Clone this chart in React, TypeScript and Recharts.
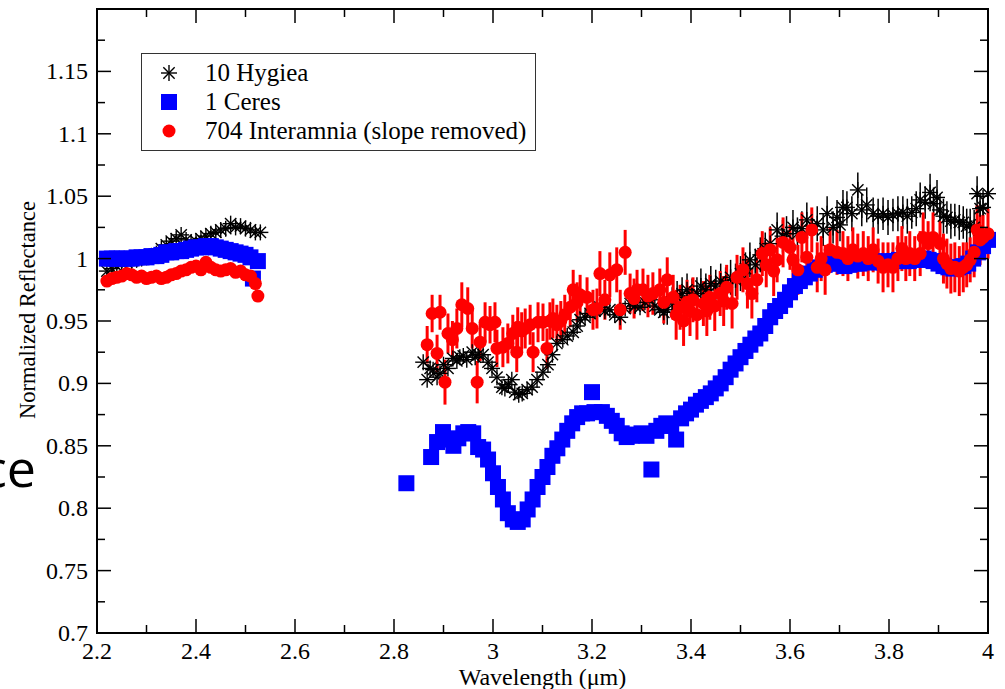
import React from 'react';
import { ScatterChart, Scatter, XAxis, YAxis, ErrorBar, ReferenceArea, Legend } from 'recharts';

// [wavelength, reflectance, error]
const hygieaShort = [
  [2.22, 0.99, 0], [2.23, 0.992, 0], [2.24, 0.994, 0], [2.25, 0.996, 0], [2.26, 0.997, 0],
  [2.27, 0.998, 0], [2.28, 0.999, 0], [2.29, 1.0, 0], [2.3, 1.001, 0], [2.31, 1.002, 0],
  [2.32, 1.004, 0], [2.33, 1.008, 0], [2.34, 1.011, 0], [2.35, 1.014, 0], [2.36, 1.016, 0],
  [2.37, 1.019, 0], [2.38, 1.015, 0], [2.39, 1.013, 0], [2.4, 1.014, 0], [2.41, 1.016, 0],
  [2.42, 1.018, 0], [2.43, 1.02, 0], [2.44, 1.021, 0], [2.45, 1.023, 0], [2.46, 1.024, 0],
  [2.47, 1.028, 0], [2.48, 1.025, 0], [2.49, 1.026, 0], [2.5, 1.024, 0], [2.51, 1.023, 0],
  [2.52, 1.021, 0], [2.53, 1.021, 0],
];

const hygieaLong = [
  [2.859, 0.917, 0], [2.867, 0.903, 0], [2.873, 0.912, 0], [2.879, 0.911, 0], [2.887, 0.905, 0],
  [2.893, 0.908, 0], [2.9, 0.915, 0], [2.909, 0.912, 0], [2.919, 0.92, 0], [2.927, 0.918, 0],
  [2.933, 0.921, 0], [2.94, 0.922, 0], [2.947, 0.919, 0], [2.958, 0.925, 0], [2.964, 0.921, 0],
  [2.97, 0.923, 0], [2.98, 0.923, 0], [2.99, 0.917, 0], [2.998, 0.912, 0], [3.008, 0.905, 0],
  [3.018, 0.897, 0], [3.024, 0.896, 0], [3.031, 0.899, 0], [3.038, 0.903, 0], [3.044, 0.893, 0],
  [3.052, 0.891, 0], [3.059, 0.892, 0], [3.069, 0.895, 0], [3.079, 0.897, 0], [3.089, 0.903, 0],
  [3.101, 0.909, 0], [3.111, 0.915, 0], [3.12, 0.923, 0], [3.129, 0.932, 0], [3.141, 0.935, 0],
  [3.15, 0.938, 0], [3.162, 0.941, 0], [3.17, 0.946, 0], [3.176, 0.951, 0], [3.186, 0.953, 0],
  [3.196, 0.956, 0], [3.206, 0.958, 0], [3.216, 0.961, 0], [3.226, 0.958, 0], [3.236, 0.959, 0],
  [3.246, 0.955, 0], [3.257, 0.953, 0], [3.267, 0.96, 0], [3.277, 0.964, 0], [3.287, 0.962, 0],
  [3.297, 0.961, 0], [3.307, 0.965, 0], [3.317, 0.967, 0], [3.327, 0.962, 0], [3.337, 0.959, 0],
  [3.345, 0.957, 0.01], [3.352, 0.959, 0.012], [3.362, 0.965, 0.012], [3.372, 0.969, 0.013],
  [3.382, 0.972, 0.013], [3.392, 0.975, 0.013], [3.402, 0.97, 0.014], [3.412, 0.972, 0.013],
  [3.42, 0.978, 0.014], [3.43, 0.975, 0.013], [3.44, 0.98, 0.014], [3.45, 0.978, 0.013],
  [3.46, 0.982, 0.014], [3.47, 0.98, 0.013], [3.48, 0.985, 0.014], [3.49, 0.983, 0.013],
  [3.5, 0.988, 0.014], [3.51, 0.992, 0.013], [3.519, 0.999, 0.014], [3.53, 0.995, 0.013],
  [3.54, 1.003, 0.014], [3.55, 1.008, 0.013], [3.56, 1.012, 0.014], [3.574, 1.023, 0.014],
  [3.585, 1.018, 0.013], [3.593, 1.02, 0.014], [3.606, 1.025, 0.014], [3.615, 1.02, 0.013],
  [3.624, 1.024, 0.014], [3.634, 1.031, 0.014], [3.645, 1.026, 0.013], [3.655, 1.028, 0.014],
  [3.667, 1.023, 0.013], [3.675, 1.036, 0.014], [3.687, 1.025, 0.013], [3.695, 1.033, 0.014],
  [3.701, 1.027, 0.013], [3.707, 1.041, 0.014], [3.715, 1.041, 0.013], [3.725, 1.036, 0.014],
  [3.737, 1.055, 0.014], [3.745, 1.039, 0.013], [3.755, 1.043, 0.014], [3.768, 1.036, 0.013],
  [3.778, 1.034, 0.014], [3.788, 1.036, 0.013], [3.798, 1.033, 0.014], [3.808, 1.035, 0.013],
  [3.818, 1.036, 0.014], [3.828, 1.037, 0.013], [3.837, 1.034, 0.014], [3.846, 1.037, 0.013],
  [3.855, 1.04, 0.014], [3.863, 1.047, 0.014], [3.873, 1.045, 0.013], [3.883, 1.053, 0.015],
  [3.89, 1.044, 0.013], [3.897, 1.049, 0.014], [3.903, 1.039, 0.013], [3.91, 1.034, 0.014],
  [3.917, 1.033, 0.013], [3.925, 1.03, 0.014], [3.933, 1.031, 0.013], [3.942, 1.029, 0.014],
  [3.95, 1.029, 0.013], [3.957, 1.026, 0.014], [3.964, 1.027, 0.013], [3.972, 1.025, 0.014],
  [3.978, 1.052, 0.014], [3.984, 1.04, 0.013], [3.99, 1.041, 0.014], [4.0, 1.052, 0.014],
];

const ceresShort = [
  [2.22, 1.0, 0], [2.23, 1.0, 0], [2.24, 1.0, 0], [2.25, 1.0, 0], [2.26, 1.0, 0],
  [2.27, 1.0, 0], [2.28, 1.001, 0], [2.29, 1.001, 0], [2.3, 1.001, 0], [2.31, 1.002, 0],
  [2.32, 1.002, 0], [2.33, 1.003, 0], [2.34, 1.005, 0], [2.35, 1.005, 0], [2.36, 1.006, 0],
  [2.37, 1.006, 0], [2.38, 1.007, 0], [2.39, 1.008, 0], [2.4, 1.009, 0], [2.41, 1.009, 0],
  [2.42, 1.01, 0], [2.43, 1.01, 0], [2.44, 1.009, 0], [2.45, 1.008, 0], [2.46, 1.007, 0],
  [2.47, 1.006, 0], [2.48, 1.005, 0], [2.49, 1.004, 0], [2.5, 1.003, 0], [2.51, 1.001, 0],
  [2.515, 0.984, 0], [2.525, 0.998, 0],
];

const ceresLong = [
  [2.825, 0.82, 0], [2.875, 0.841, 0], [2.887, 0.853, 0], [2.899, 0.861, 0], [2.91, 0.855, 0],
  [2.92, 0.85, 0], [2.93, 0.856, 0], [2.94, 0.86, 0], [2.95, 0.861, 0], [2.96, 0.86, 0],
  [2.97, 0.849, 0], [2.98, 0.847, 0], [2.99, 0.839, 0], [3.0, 0.828, 0], [3.01, 0.817, 0],
  [3.02, 0.807, 0], [3.03, 0.796, 0], [3.04, 0.791, 0], [3.05, 0.789, 0], [3.06, 0.791, 0],
  [3.07, 0.799, 0], [3.08, 0.807, 0], [3.09, 0.817, 0], [3.1, 0.825, 0], [3.11, 0.833, 0],
  [3.12, 0.842, 0], [3.13, 0.848, 0], [3.14, 0.855, 0], [3.15, 0.862, 0], [3.16, 0.868, 0],
  [3.17, 0.873, 0], [3.18, 0.876, 0], [3.19, 0.876, 0], [3.2, 0.893, 0], [3.205, 0.877, 0],
  [3.22, 0.877, 0], [3.23, 0.874, 0], [3.24, 0.87, 0], [3.25, 0.866, 0], [3.26, 0.86, 0],
  [3.27, 0.857, 0], [3.28, 0.858, 0], [3.29, 0.859, 0], [3.3, 0.86, 0], [3.31, 0.858, 0],
  [3.32, 0.831, 0], [3.33, 0.862, 0], [3.34, 0.866, 0], [3.35, 0.868, 0], [3.36, 0.866, 0],
  [3.37, 0.855, 0], [3.38, 0.872, 0], [3.39, 0.876, 0], [3.4, 0.879, 0], [3.41, 0.883, 0],
  [3.42, 0.886, 0], [3.43, 0.889, 0], [3.44, 0.892, 0], [3.45, 0.896, 0], [3.46, 0.9, 0],
  [3.47, 0.905, 0], [3.48, 0.911, 0], [3.49, 0.916, 0], [3.5, 0.921, 0], [3.51, 0.926, 0],
  [3.52, 0.931, 0], [3.53, 0.936, 0], [3.54, 0.94, 0], [3.55, 0.946, 0], [3.56, 0.953, 0],
  [3.57, 0.958, 0], [3.58, 0.962, 0], [3.59, 0.967, 0], [3.6, 0.973, 0], [3.61, 0.978, 0],
  [3.62, 0.982, 0], [3.63, 0.985, 0], [3.64, 0.988, 0], [3.65, 0.991, 0], [3.66, 0.993, 0],
  [3.67, 0.995, 0], [3.68, 0.996, 0], [3.69, 0.997, 0], [3.7, 0.996, 0], [3.71, 0.994, 0],
  [3.72, 0.995, 0], [3.73, 0.996, 0], [3.74, 0.996, 0], [3.75, 0.997, 0], [3.76, 0.997, 0],
  [3.77, 0.998, 0], [3.78, 0.997, 0], [3.79, 0.997, 0], [3.8, 0.998, 0], [3.81, 0.998, 0],
  [3.82, 0.999, 0], [3.83, 0.998, 0], [3.84, 0.998, 0], [3.85, 0.999, 0], [3.86, 0.999, 0],
  [3.87, 1.0, 0], [3.88, 0.999, 0], [3.89, 0.998, 0], [3.9, 0.996, 0], [3.91, 0.994, 0],
  [3.92, 0.993, 0], [3.93, 0.992, 0], [3.94, 0.993, 0], [3.95, 0.994, 0], [3.96, 0.996, 0],
  [3.97, 1.0, 0], [3.98, 1.005, 0], [3.99, 1.01, 0], [4.0, 1.015, 0],
];

const interamniaShort = [
  [2.22, 0.982, 0], [2.23, 0.984, 0], [2.24, 0.985, 0], [2.25, 0.986, 0], [2.26, 0.988, 0],
  [2.27, 0.987, 0], [2.28, 0.985, 0], [2.29, 0.986, 0], [2.3, 0.984, 0], [2.31, 0.985, 0],
  [2.32, 0.986, 0], [2.33, 0.984, 0], [2.34, 0.985, 0], [2.35, 0.987, 0], [2.36, 0.988, 0],
  [2.37, 0.99, 0], [2.38, 0.991, 0], [2.39, 0.993, 0], [2.4, 0.994, 0], [2.41, 0.991, 0],
  [2.42, 0.997, 0], [2.43, 0.993, 0], [2.44, 0.991, 0], [2.45, 0.99, 0], [2.46, 0.991, 0],
  [2.47, 0.992, 0], [2.48, 0.989, 0], [2.49, 0.99, 0], [2.5, 0.987, 0], [2.51, 0.986, 0],
  [2.52, 0.98, 0], [2.525, 0.97, 0],
];

const interamniaLong = [
  [2.867, 0.931, 0.015], [2.877, 0.956, 0.015], [2.887, 0.924, 0.015], [2.893, 0.957, 0.014],
  [2.903, 0.901, 0.018], [2.909, 0.94, 0.016], [2.918, 0.935, 0.015], [2.927, 0.944, 0.016],
  [2.937, 0.963, 0.018], [2.949, 0.96, 0.017], [2.958, 0.944, 0.016], [2.968, 0.901, 0.017],
  [2.974, 0.933, 0.015], [2.984, 0.949, 0.016], [2.994, 0.947, 0.015], [3.004, 0.949, 0.016],
  [3.008, 0.928, 0.015], [3.02, 0.929, 0.016], [3.03, 0.932, 0.016], [3.04, 0.94, 0.015],
  [3.048, 0.925, 0.016], [3.05, 0.945, 0.016], [3.058, 0.942, 0.015], [3.065, 0.944, 0.016],
  [3.075, 0.947, 0.016], [3.081, 0.925, 0.016], [3.091, 0.949, 0.016], [3.101, 0.949, 0.015],
  [3.109, 0.928, 0.016], [3.115, 0.95, 0.015], [3.121, 0.952, 0.016], [3.129, 0.947, 0.016],
  [3.137, 0.95, 0.016], [3.145, 0.955, 0.016], [3.156, 0.961, 0.016], [3.162, 0.975, 0.016],
  [3.17, 0.965, 0.016], [3.176, 0.971, 0.016], [3.19, 0.969, 0.016], [3.202, 0.959, 0.016],
  [3.21, 0.96, 0.016], [3.216, 0.988, 0.018], [3.226, 0.967, 0.016], [3.236, 0.987, 0.018],
  [3.25, 0.991, 0.018], [3.257, 0.959, 0.016], [3.267, 1.005, 0.018], [3.277, 0.972, 0.016],
  [3.285, 0.968, 0.016], [3.291, 0.975, 0.016], [3.303, 0.975, 0.017], [3.313, 0.97, 0.017],
  [3.323, 0.972, 0.017], [3.337, 0.975, 0.017], [3.345, 0.965, 0.017], [3.352, 0.983, 0.018],
  [3.364, 0.969, 0.018], [3.37, 0.955, 0.02], [3.378, 0.961, 0.018], [3.385, 0.95, 0.02],
  [3.392, 0.965, 0.018], [3.398, 0.958, 0.02], [3.404, 0.967, 0.018], [3.412, 0.955, 0.02],
  [3.425, 0.964, 0.018], [3.432, 0.958, 0.02], [3.438, 0.969, 0.018], [3.448, 0.962, 0.02],
  [3.459, 0.972, 0.018], [3.466, 0.966, 0.02], [3.472, 0.977, 0.018], [3.483, 0.964, 0.02],
  [3.493, 0.985, 0.018], [3.505, 0.991, 0.018], [3.514, 0.98, 0.02], [3.523, 0.972, 0.02],
  [3.533, 0.983, 0.018], [3.544, 1.004, 0.018], [3.552, 0.995, 0.018], [3.56, 1.007, 0.018],
  [3.567, 0.99, 0.02], [3.574, 0.999, 0.018], [3.586, 1.013, 0.02], [3.6, 1.009, 0.018],
  [3.606, 0.999, 0.018], [3.616, 0.991, 0.02], [3.624, 1.017, 0.02], [3.634, 1.001, 0.018],
  [3.644, 1.023, 0.018], [3.655, 0.993, 0.02], [3.663, 1.0, 0.018], [3.671, 0.991, 0.02],
  [3.681, 1.007, 0.018], [3.695, 1.005, 0.018], [3.707, 1.004, 0.018], [3.717, 1.0, 0.018],
  [3.727, 1.007, 0.018], [3.737, 1.002, 0.018], [3.748, 1.004, 0.018], [3.758, 1.0, 0.018],
  [3.768, 1.007, 0.018], [3.778, 0.998, 0.018], [3.788, 0.993, 0.02], [3.798, 0.995, 0.018],
  [3.808, 0.993, 0.02], [3.818, 1.0, 0.018], [3.826, 1.008, 0.018], [3.834, 1.0, 0.018],
  [3.842, 1.004, 0.018], [3.852, 1.0, 0.018], [3.863, 1.004, 0.018], [3.869, 1.017, 0.02],
  [3.879, 1.012, 0.018], [3.889, 1.017, 0.02], [3.903, 1.012, 0.018], [3.91, 1.0, 0.02],
  [3.917, 0.996, 0.02], [3.925, 0.992, 0.02], [3.933, 0.993, 0.02], [3.942, 0.99, 0.02],
  [3.95, 0.993, 0.02], [3.957, 0.995, 0.018], [3.964, 0.999, 0.018], [3.972, 1.005, 0.02],
  [3.978, 1.023, 0.02], [3.984, 1.015, 0.02], [3.99, 1.017, 0.018], [4.0, 1.02, 0.02],
];

const xTicks = [2.2, 2.3, 2.4, 2.5, 2.6, 2.7, 2.8, 2.9, 3, 3.1, 3.2, 3.3, 3.4, 3.5, 3.6, 3.7, 3.8, 3.9, 4];
const xLabels = [2.2, 2.4, 2.6, 2.8, 3, 3.2, 3.4, 3.6, 3.8, 4];
const yTicks = [0.7, 0.725, 0.75, 0.775, 0.8, 0.825, 0.85, 0.875, 0.9, 0.925, 0.95, 0.975, 1, 1.025, 1.05, 1.075, 1.1, 1.125, 1.15, 1.175, 1.2];
const yLabels = [0.7, 0.75, 0.8, 0.85, 0.9, 0.95, 1, 1.05, 1.1, 1.15];

const toPoints = (rows: number[][]) => rows.map(([x, y, err]) => ({ x, y, err }));
const hygieaData = toPoints([...hygieaShort, ...hygieaLong]);
const ceresData = toPoints([...ceresShort, ...ceresLong]);
const interamniaData = toPoints([...interamniaShort, ...interamniaLong]);

const PLOT_TOP = 9;
const PLOT_BOTTOM = 633;
const PLOT_LEFT = 97;
const PLOT_RIGHT = 988;
const FONT = '"Liberation Serif", "Times New Roman", serif';

const isLabel = (v: number, list: number[]) => list.some((l) => Math.abs(l - v) < 1e-6);
const fmt = (v: number) => String(Number(v.toFixed(3)));

// ticks point inward on all four sides, labels only on bottom / left
const XTick = (props: any) => {
  const { x, payload } = props;
  const major = isLabel(payload.value, xLabels);
  const len = major ? 14 : 8;
  return (
    <g>
      <line x1={x} y1={PLOT_BOTTOM} x2={x} y2={PLOT_BOTTOM - len} stroke="#000" strokeWidth={1.5} />
      <line x1={x} y1={PLOT_TOP} x2={x} y2={PLOT_TOP + len} stroke="#000" strokeWidth={1.5} />
      {major && (
        <text x={x} y={PLOT_BOTTOM + 26} textAnchor="middle" fontFamily={FONT} fontSize={24} fill="#000">
          {fmt(payload.value)}
        </text>
      )}
    </g>
  );
};

const YTick = (props: any) => {
  const { y, payload } = props;
  const major = isLabel(payload.value, yLabels);
  const top = Math.abs(payload.value - 1.2) < 1e-6;
  const len = major || top ? 14 : 8;
  return (
    <g>
      <line x1={PLOT_LEFT} y1={y} x2={PLOT_LEFT + len} y2={y} stroke="#000" strokeWidth={1.5} />
      <line x1={PLOT_RIGHT} y1={y} x2={PLOT_RIGHT - len} y2={y} stroke="#000" strokeWidth={1.5} />
      {major && (
        <text x={PLOT_LEFT - 9} y={y + 8} textAnchor="end" fontFamily={FONT} fontSize={24} fill="#000">
          {fmt(payload.value)}
        </text>
      )}
    </g>
  );
};

const StarShape = (props: any) => {
  const { cx, cy } = props;
  const r = 8;
  const d = r * 0.707;
  return (
    <g stroke="#000" strokeWidth={1.4}>
      <line x1={cx - r} y1={cy} x2={cx + r} y2={cy} />
      <line x1={cx} y1={cy - r} x2={cx} y2={cy + r} />
      <line x1={cx - d} y1={cy - d} x2={cx + d} y2={cy + d} />
      <line x1={cx - d} y1={cy + d} x2={cx + d} y2={cy - d} />
    </g>
  );
};

const SquareShape = (props: any) => {
  const { cx, cy } = props;
  return <rect x={cx - 8} y={cy - 8} width={16} height={16} fill="#0000ff" />;
};

const CircleShape = (props: any) => {
  const { cx, cy } = props;
  return <circle cx={cx} cy={cy} r={6.5} fill="#ff0000" />;
};

const LegendBox = () => (
  <div
    style={{
      width: 395,
      height: 98,
      border: '1.5px solid #333',
      background: '#fff',
      fontFamily: FONT,
      fontSize: 25,
      color: '#000',
      position: 'relative',
      boxSizing: 'border-box',
    }}
  >
    <svg width={60} height={98} style={{ position: 'absolute', left: 0, top: 0 }}>
      <StarShape cx={27} cy={19} />
      <SquareShape cx={27} cy={48} />
      <CircleShape cx={27} cy={77} />
    </svg>
    <div style={{ position: 'absolute', left: 63, top: 4, lineHeight: '29px', whiteSpace: 'nowrap' }}>
      <div>10 Hygiea</div>
      <div>1 Ceres</div>
      <div>704 Interamnia (slope removed)</div>
    </div>
  </div>
);

export default function App() {
  return (
    <div style={{ position: 'absolute', left: 0, top: 0, width: 1005, height: 689, background: '#fff' }}>
      <ScatterChart width={1005} height={689} margin={{ top: 9, right: 17, bottom: 55, left: 96 }}>
        <XAxis
          xAxisId="b"
          type="number"
          dataKey="x"
          domain={[2.2, 4]}
          ticks={xTicks}
          interval={0}
          height={1}
          tickSize={0}
          tickMargin={0}
          tickLine={false}
          axisLine={false}
          tick={<XTick />}
        />
        <YAxis
          yAxisId="l"
          type="number"
          dataKey="y"
          domain={[0.7, 1.2]}
          ticks={yTicks}
          interval={0}
          width={1}
          tickSize={0}
          tickMargin={0}
          tickLine={false}
          axisLine={false}
          tick={<YTick />}
        />
        <ReferenceArea
          xAxisId="b"
          yAxisId="l"
          x1={2.2}
          x2={4}
          y1={0.7}
          y2={1.2}
          fill="none"
          fillOpacity={0}
          stroke="#000"
          strokeWidth={2}
          ifOverflow="visible"
        />
        <Legend
          layout="vertical"
          align="center"
          verticalAlign="middle"
          wrapperStyle={{ left: 141, top: 53, width: 395 }}
          content={() => <LegendBox />}
        />
        <Scatter
          name="10 Hygiea"
          data={hygieaData}
          xAxisId="b"
          yAxisId="l"
          shape={<StarShape />}
          isAnimationActive={false}
        >
          <ErrorBar dataKey="err" direction="y" width={0} stroke="#000" strokeWidth={1.5} isAnimationActive={false} />
        </Scatter>
        <Scatter
          name="1 Ceres"
          data={ceresData}
          xAxisId="b"
          yAxisId="l"
          shape={<SquareShape />}
          isAnimationActive={false}
        />
        <Scatter
          name="704 Interamnia (slope removed)"
          data={interamniaData}
          xAxisId="b"
          yAxisId="l"
          shape={<CircleShape />}
          isAnimationActive={false}
        >
          <ErrorBar dataKey="err" direction="y" width={0} stroke="#ff0000" strokeWidth={3} isAnimationActive={false} />
        </Scatter>
      </ScatterChart>
      <svg width={1005} height={689} style={{ position: 'absolute', left: 0, top: 0, pointerEvents: 'none' }}>
        <text x={36} y={487} textAnchor="end" fontFamily='"Open Sans", sans-serif' fontSize={52} fill="#000">
          ce
        </text>
        <text
          x={0}
          y={0}
          transform="translate(35 310) rotate(-90)"
          textAnchor="middle"
          fontFamily={FONT}
          fontSize={22.5}
          fill="#000"
        >
          Normalized Reflectance
        </text>
        <text x={542.5} y={685} textAnchor="middle" fontFamily={FONT} fontSize={24} fill="#000">
          Wavelength (μm)
        </text>
      </svg>
    </div>
  );
}
